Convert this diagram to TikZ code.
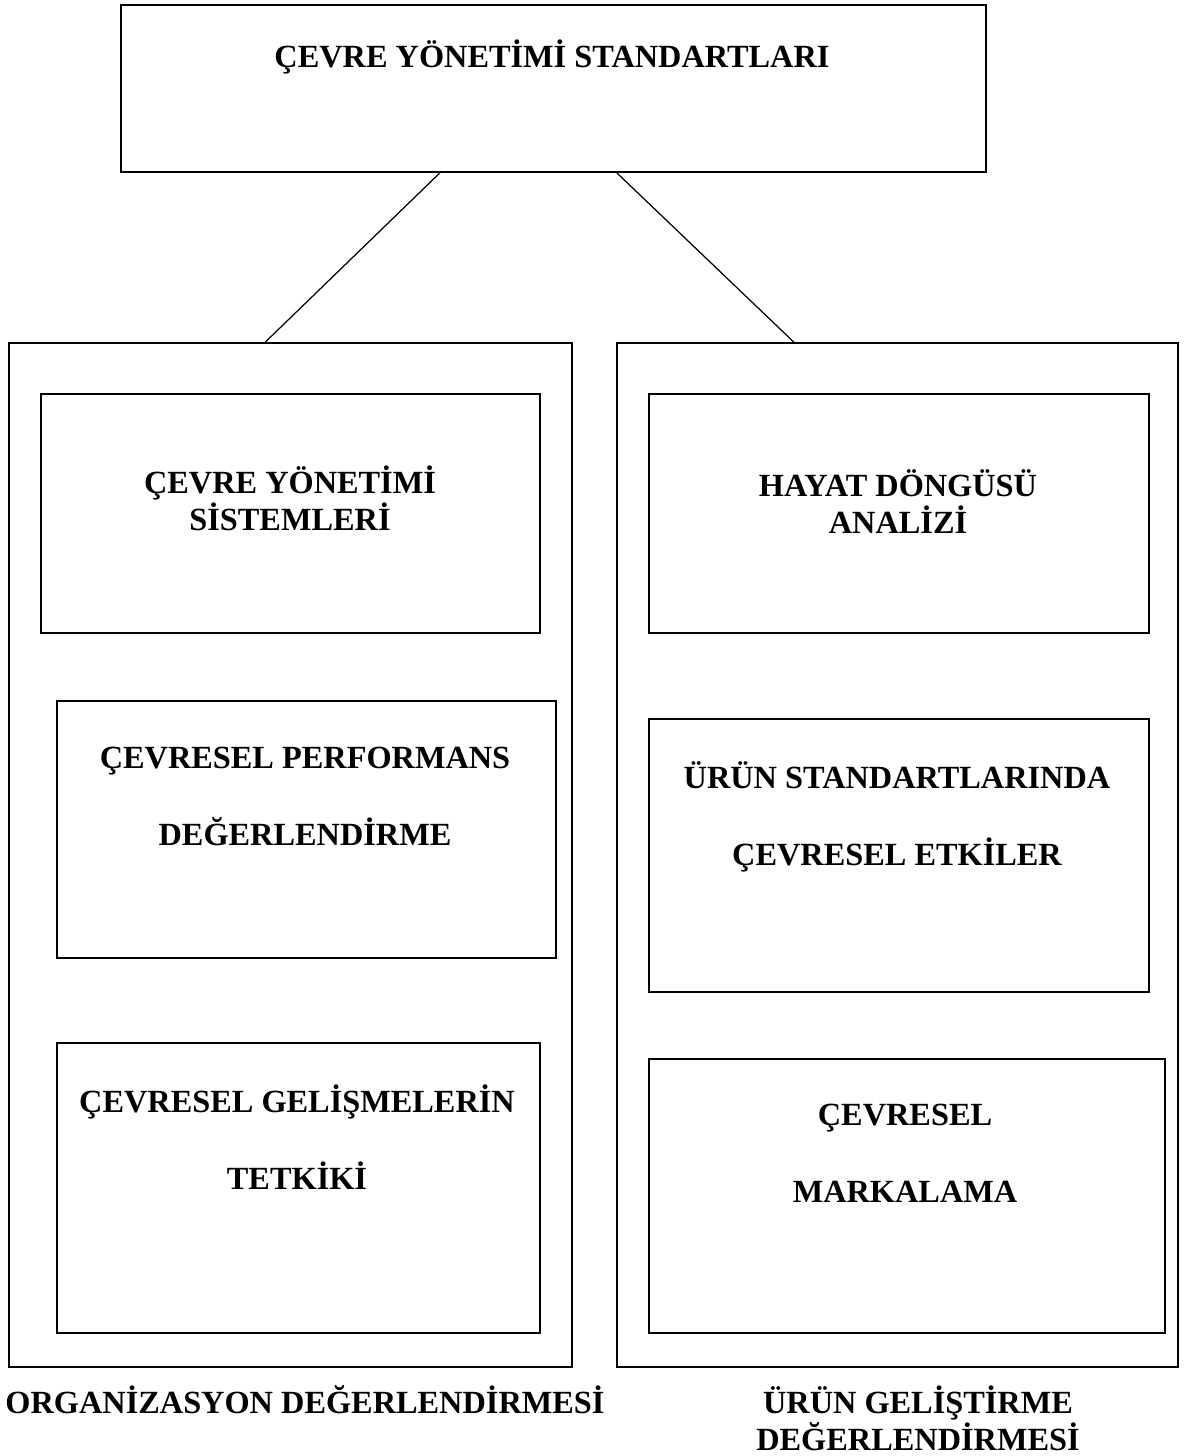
\documentclass[tikz,border=0pt]{standalone}
\usepackage{fontspec}
\setmainfont{Liberation Serif}
\usepackage{tikz}
\usetikzlibrary{calc}

\tikzset{
  box/.style={draw, line width=0.9pt, inner sep=0pt},
  lbl/.style={font=\bfseries\fontsize{18.4}{21}\selectfont, align=center, anchor=base, inner sep=0pt},
  lblwide/.style={lbl, font=\bfseries\fontsize{18.4}{43.6}\selectfont}
}

\begin{document}
\begin{tikzpicture}[x=0.02cm,y=-0.02cm]
  \useasboundingbox (0,0) rectangle (1186,1456);
  % frames
  \node[box, minimum width=17.3cm, minimum height=3.34cm] (std) at (553.5,88.5) {};
  \node[box, minimum width=11.26cm, minimum height=20.48cm] (org) at (290.5,855) {};
  \node[box, minimum width=11.22cm, minimum height=20.48cm] (pro) at (897.5,855) {};
  \foreach \n/\x/\y/\w/\h in {ems/290.5/513.5/9.98/4.78, perf/306.5/829.5/9.98/5.14,
      dev/298.5/1188/9.66/5.8, lca/899/513.5/10.0/4.78,
      prod/899/855.5/10.0/5.46, mark/907/1196/10.32/5.48} {
    \node[box, minimum width=\w cm, minimum height=\h cm] (\n) at (\x,\y) {};
  }
  % links
  \draw[line width=0.7pt] ($(std.south west)!0.369!(std.south east)$) -- ($(org.north west)!0.455!(org.north east)$);
  \draw[line width=0.7pt] ($(std.south west)!0.573!(std.south east)$) -- ($(pro.north west)!0.316!(pro.north east)$);
  % texts (anchor at baseline of last line)
  \node[lbl] (stdtxt) at (552,68) {ÇEVRE YÖNETİMİ STANDARTLARI};
  \node[lbl] (emstxt) at (290,530) {ÇEVRE YÖNETİMİ\\SİSTEMLERİ};
  \node[lblwide] (perftxt) at (305,845) {ÇEVRESEL PERFORMANS\\DEĞERLENDİRME};
  \node[lblwide] (devtxt) at (297,1189) {ÇEVRESEL GELİŞMELERİN\\TETKİKİ};
  \node[lbl] (lcatxt) at (898,533) {HAYAT DÖNGÜSÜ\\ANALİZİ};
  \node[lblwide] (prodtxt) at (897,865) {ÜRÜN STANDARTLARINDA\\ÇEVRESEL ETKİLER};
  \node[lblwide] (marktxt) at (905,1202) {ÇEVRESEL\\MARKALAMA};
  \node[lbl] (orgtxt) at (305,1413) {ORGANİZASYON DEĞERLENDİRMESİ};
  \node[lbl] (protxt) at (918,1450) {ÜRÜN GELİŞTİRME\\DEĞERLENDİRMESİ};
\end{tikzpicture}
\end{document}
